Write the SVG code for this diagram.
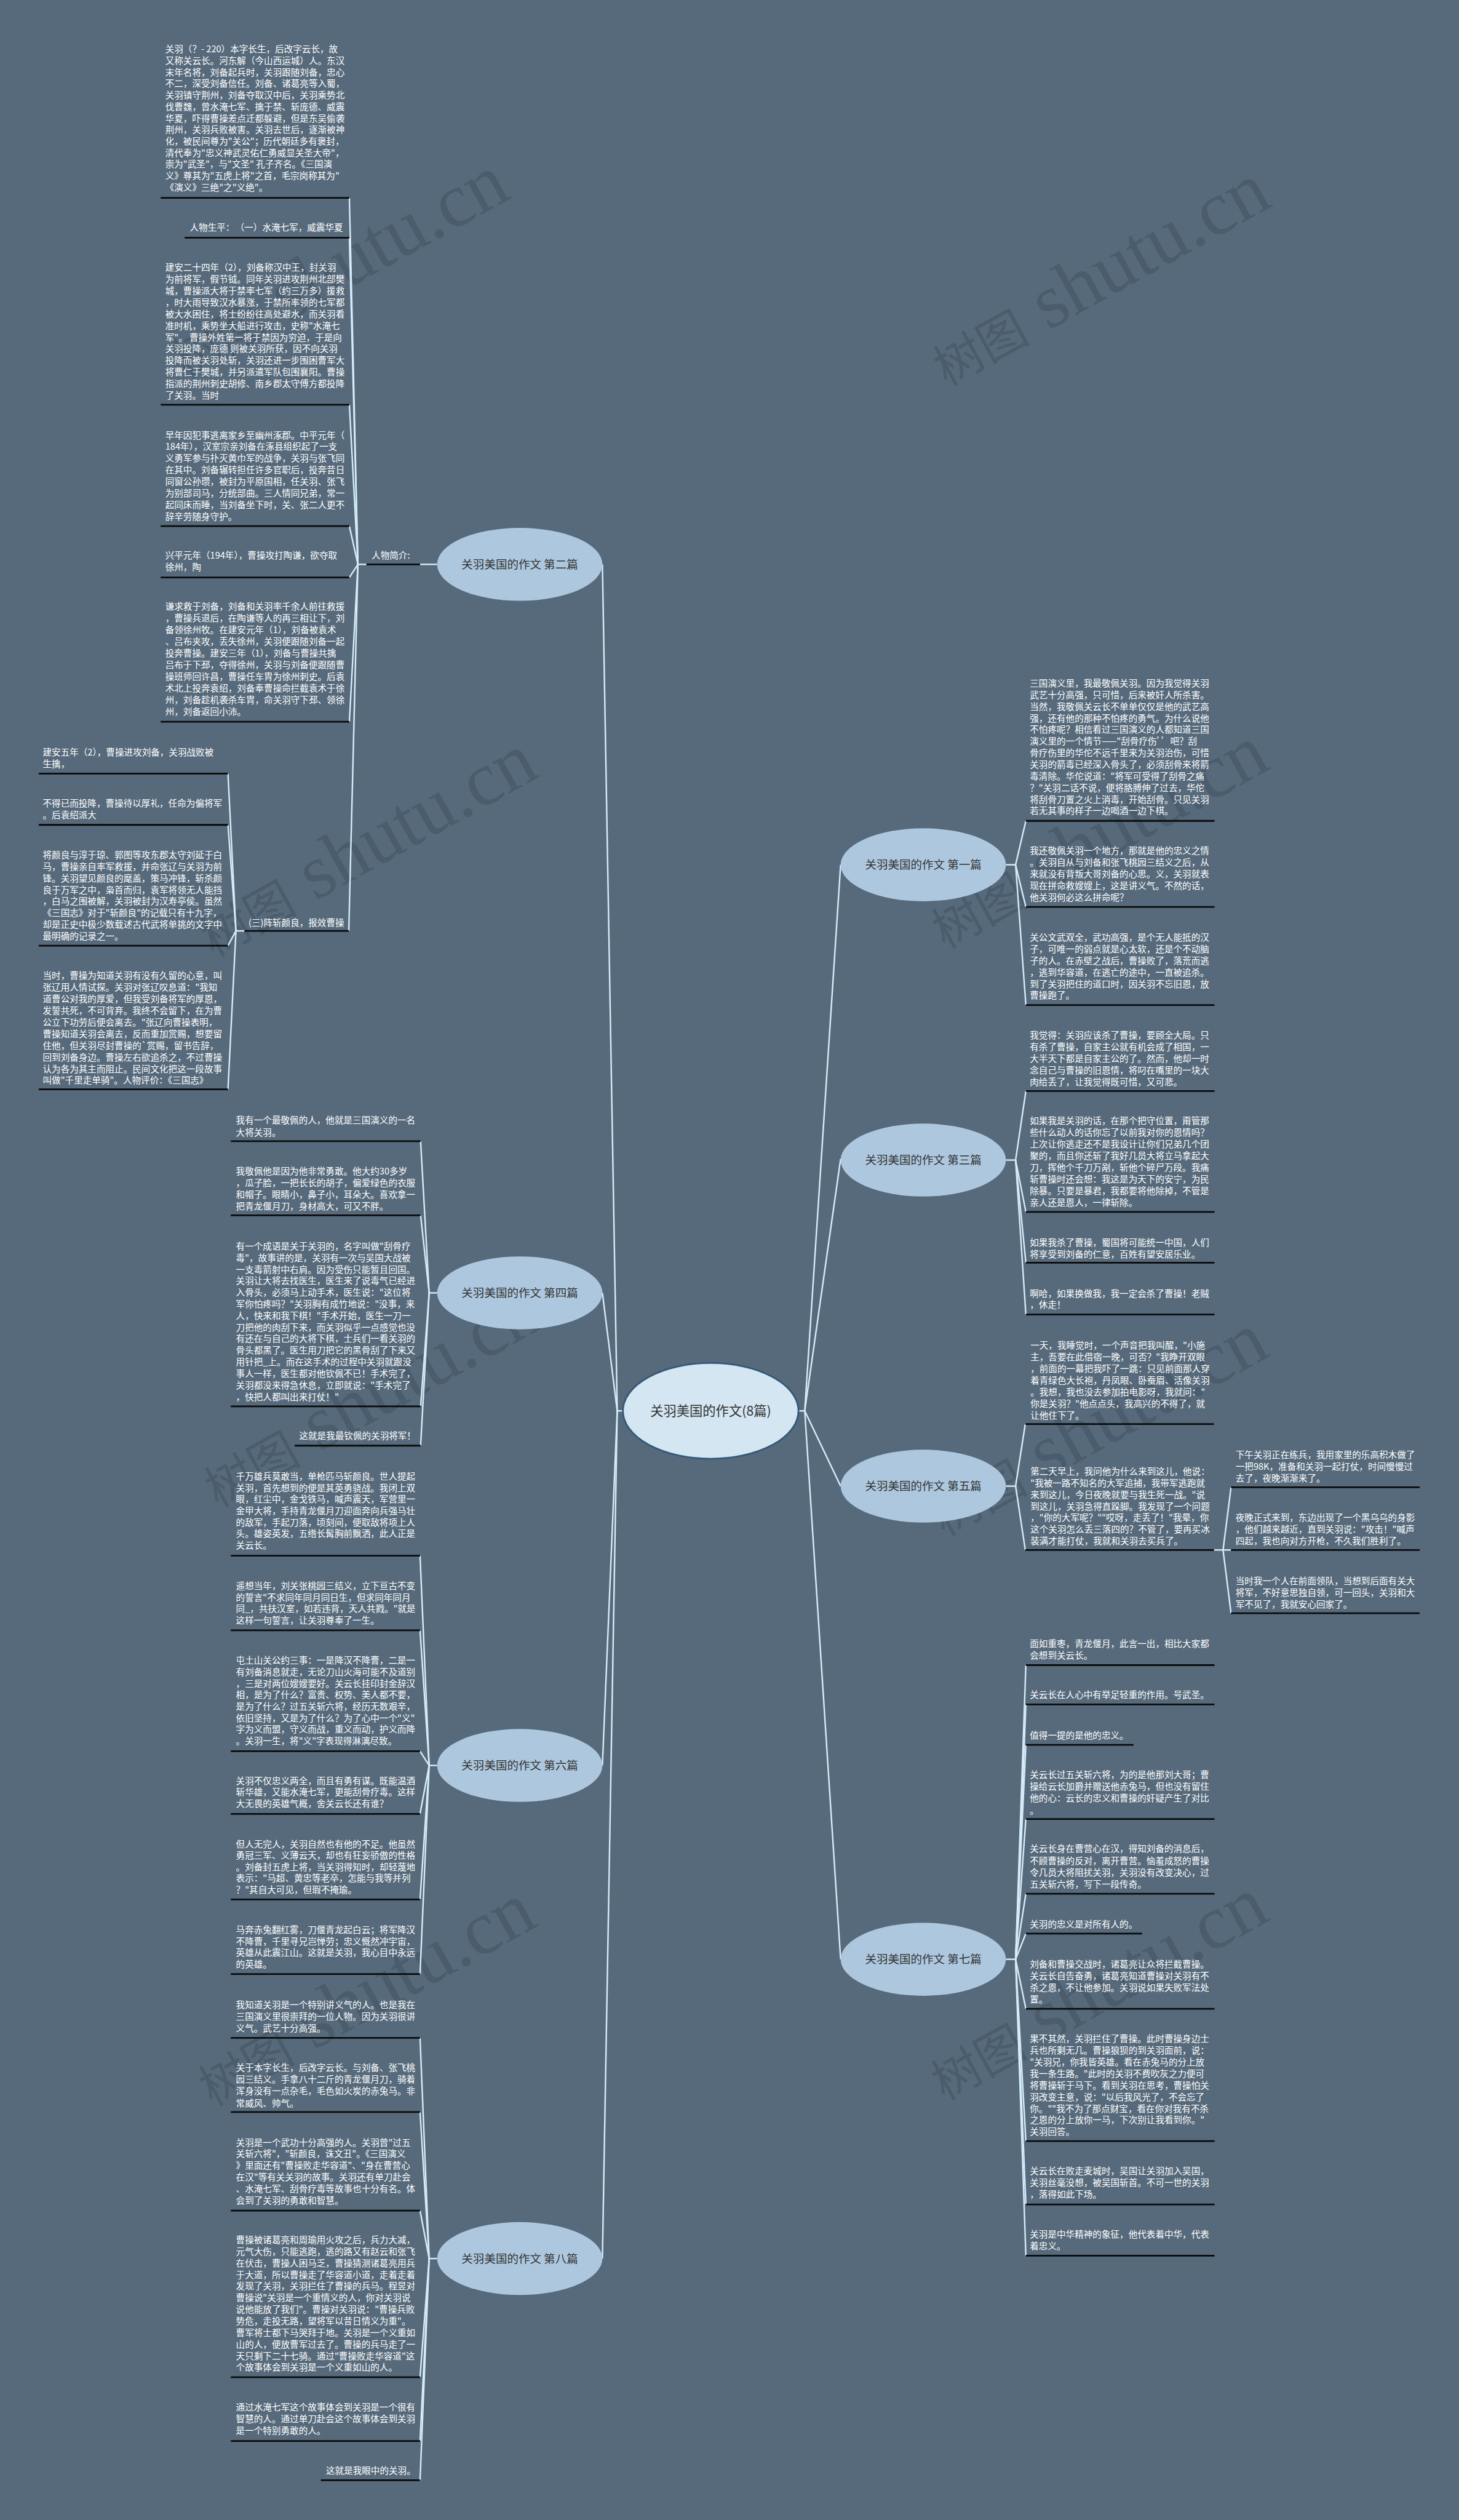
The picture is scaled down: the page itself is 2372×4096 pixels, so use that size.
<svg xmlns="http://www.w3.org/2000/svg" width="2372" height="4096" viewBox="0 0 2372 4096">
<style>
.t{font-family:"Noto Sans CJK SC","Noto Sans",sans-serif;font-size:15.75px;fill:#ffffff}
.nt{font-family:"Noto Sans CJK SC","Noto Sans",sans-serif;font-size:20px;fill:#333333;text-anchor:middle}
.ct{font-family:"Noto Sans CJK SC","Noto Sans",sans-serif;font-size:23px;fill:#333333;text-anchor:middle}
.ul{stroke:#0b0b0b;stroke-width:3;fill:none}
.conn path{stroke:#d4ecf8;stroke-width:2.6;fill:none;stroke-linejoin:round}
.bn{fill:#adc8de}
.cn{fill:#d3e6f2;stroke:#34597a;stroke-width:3}
.wm{font-family:"Liberation Serif","Noto Sans CJK SC",serif;fill:#2f3d4a;opacity:0.28;text-anchor:middle}
</style>
<rect x="0" y="0" width="2372" height="4096" fill="#566a7b"/>
<g transform="scale(0.9265625)">
<g id="watermarks">
<text class="wm" transform="translate(598,479) rotate(-29)" y="30"><tspan font-size="85">树图</tspan><tspan font-size="135"> shutu.cn</tspan></text>
<text class="wm" transform="translate(1934,493) rotate(-29)" y="30"><tspan font-size="85">树图</tspan><tspan font-size="135"> shutu.cn</tspan></text>
<text class="wm" transform="translate(648,1494) rotate(-29)" y="30"><tspan font-size="85">树图</tspan><tspan font-size="135"> shutu.cn</tspan></text>
<text class="wm" transform="translate(1931,1480) rotate(-29)" y="30"><tspan font-size="85">树图</tspan><tspan font-size="135"> shutu.cn</tspan></text>
<text class="wm" transform="translate(655,2460) rotate(-29)" y="30"><tspan font-size="85">树图</tspan><tspan font-size="135"> shutu.cn</tspan></text>
<text class="wm" transform="translate(1930,2510) rotate(-29)" y="30"><tspan font-size="85">树图</tspan><tspan font-size="135"> shutu.cn</tspan></text>
<text class="wm" transform="translate(645,3510) rotate(-29)" y="30"><tspan font-size="85">树图</tspan><tspan font-size="135"> shutu.cn</tspan></text>
<text class="wm" transform="translate(1930,3500) rotate(-29)" y="30"><tspan font-size="85">树图</tspan><tspan font-size="135"> shutu.cn</tspan></text>
</g>
<g id="connectors" class="conn">
<path d="M1093,2475 H1083 L1057,990"/>
<path d="M1083,2475 L1057,2268"/>
<path d="M1083,2475 L1057,3097"/>
<path d="M1083,2475 L1057,3962"/>
<path d="M1401,2475 H1412 L1475,1517"/>
<path d="M1412,2475 L1475,2033"/>
<path d="M1412,2475 L1475,2607"/>
<path d="M1412,2475 L1475,3437"/>
<path d="M767,990 H737"/>
<path d="M643,990 H628"/>
<path d="M628,990 L613,347"/>
<path d="M628,990 L613,417"/>
<path d="M628,990 L613,710"/>
<path d="M628,990 L613,923"/>
<path d="M628,990 L613,1013"/>
<path d="M628,990 L613,1266"/>
<path d="M628,990 L612,1633"/>
<path d="M429,1633 H414"/>
<path d="M414,1633 L400,1357"/>
<path d="M414,1633 L400,1447"/>
<path d="M414,1633 L400,1659"/>
<path d="M414,1633 L400,1911"/>
<path d="M767,2268 H753"/>
<path d="M753,2268 L738,2002"/>
<path d="M753,2268 L738,2132"/>
<path d="M753,2268 L738,2467"/>
<path d="M753,2268 L738,2536"/>
<path d="M767,3097 H753"/>
<path d="M753,3097 L737,2729"/>
<path d="M753,3097 L737,2860"/>
<path d="M753,3097 L737,3072"/>
<path d="M753,3097 L737,3182"/>
<path d="M753,3097 L737,3332"/>
<path d="M753,3097 L737,3463"/>
<path d="M767,3962 H753"/>
<path d="M753,3962 L737,3575"/>
<path d="M753,3962 L737,3705"/>
<path d="M753,3962 L737,3878"/>
<path d="M753,3962 L737,4170"/>
<path d="M753,3962 L737,4282"/>
<path d="M753,3962 L737,4351"/>
<path d="M1765,1517 H1782"/>
<path d="M1782,1517 L1800,1440"/>
<path d="M1782,1517 L1800,1591"/>
<path d="M1782,1517 L1800,1763"/>
<path d="M1765,2035 H1782"/>
<path d="M1782,2035 L1800,1914"/>
<path d="M1782,2035 L1800,2126"/>
<path d="M1782,2035 L1800,2215"/>
<path d="M1782,2035 L1800,2306"/>
<path d="M1765,2607 H1782"/>
<path d="M1782,2607 L1799,2498"/>
<path d="M1782,2607 L1799,2719"/>
<path d="M2130,2719 H2146"/>
<path d="M2146,2719 L2160,2609"/>
<path d="M2146,2719 L2160,2719"/>
<path d="M2146,2719 L2160,2830"/>
<path d="M1765,3437 H1782"/>
<path d="M1782,3437 L1800,2921"/>
<path d="M1782,3437 L1800,2990"/>
<path d="M1782,3437 L1800,3061"/>
<path d="M1782,3437 L1800,3191"/>
<path d="M1782,3437 L1800,3322"/>
<path d="M1782,3437 L1800,3392"/>
<path d="M1782,3437 L1800,3524"/>
<path d="M1782,3437 L1800,3756"/>
<path d="M1782,3437 L1800,3867"/>
<path d="M1782,3437 L1800,3957"/>
</g>
<g id="center">
<ellipse class="cn" cx="1247" cy="2475" rx="154" ry="84"/>
<text class="ct" x="1247" y="2483">关羽美国的作文(8篇)</text>
</g>
<g id="p2"><ellipse class="bn" cx="912" cy="990" rx="145" ry="64"/><text class="nt" x="912" y="997">关羽美国的作文 第二篇</text></g>
<g id="p4"><ellipse class="bn" cx="912" cy="2268" rx="145" ry="64"/><text class="nt" x="912" y="2275">关羽美国的作文 第四篇</text></g>
<g id="p6"><ellipse class="bn" cx="912" cy="3097" rx="145" ry="64"/><text class="nt" x="912" y="3104">关羽美国的作文 第六篇</text></g>
<g id="p8"><ellipse class="bn" cx="912" cy="3962" rx="145" ry="64"/><text class="nt" x="912" y="3969">关羽美国的作文 第八篇</text></g>
<g id="p1"><ellipse class="bn" cx="1620" cy="1517" rx="145" ry="64"/><text class="nt" x="1620" y="1524">关羽美国的作文 第一篇</text></g>
<g id="p3"><ellipse class="bn" cx="1620" cy="2035" rx="145" ry="64"/><text class="nt" x="1620" y="2042">关羽美国的作文 第三篇</text></g>
<g id="p5"><ellipse class="bn" cx="1620" cy="2607" rx="145" ry="64"/><text class="nt" x="1620" y="2614">关羽美国的作文 第五篇</text></g>
<g id="p7"><ellipse class="bn" cx="1620" cy="3437" rx="145" ry="64"/><text class="nt" x="1620" y="3444">关羽美国的作文 第七篇</text></g>

<g id="intro"><text class="t" x="652" y="980">人物简介:</text><line class="ul" x1="643" y1="990" x2="737" y2="990"/></g>
<g id="a"><text class="t" x="290" y="92"><tspan x="290" dy="0">关羽（？- 220）本字长生，后改字云长，故</tspan><tspan x="290" dy="20.2">又称关云长。河东解（今山西运城）人。东汉</tspan><tspan x="290" dy="20.2">末年名将，刘备起兵时，关羽跟随刘备，忠心</tspan><tspan x="290" dy="20.2">不二，深受刘备信任。刘备、诸葛亮等入蜀，</tspan><tspan x="290" dy="20.2">关羽镇守荆州，刘备夺取汉中后，关羽乘势北</tspan><tspan x="290" dy="20.2">伐曹魏，曾水淹七军、擒于禁、斩庞德、威震</tspan><tspan x="290" dy="20.2">华夏，吓得曹操差点迁都躲避，但是东吴偷袭</tspan><tspan x="290" dy="20.2">荆州，关羽兵败被害。关羽去世后，逐渐被神</tspan><tspan x="290" dy="20.2">化，被民间尊为"关公"；历代朝廷多有褒封，</tspan><tspan x="290" dy="20.2">清代奉为"忠义神武灵佑仁勇威显关圣大帝"，</tspan><tspan x="290" dy="20.2">崇为"武圣"，与"文圣" 孔子齐名。《三国演</tspan><tspan x="290" dy="20.2">义》尊其为"五虎上将"之首，毛宗岗称其为"</tspan><tspan x="290" dy="20.2">《演义》三绝"之"义绝"。</tspan></text><line class="ul" x1="282" y1="347" x2="613" y2="347"/></g>
<g id="b"><text class="t" x="333" y="405">人物生平：<tspan x="413">（一）水淹七军，威震华夏</tspan></text><line class="ul" x1="324" y1="417" x2="613" y2="417"/></g>
<g id="c"><text class="t" x="290" y="475"><tspan x="290" dy="0">建安二十四年（2），刘备称汉中王，封关羽</tspan><tspan x="290" dy="20.4">为前将军，假节钺。同年关羽进攻荆州北部樊</tspan><tspan x="290" dy="20.4">城，曹操派大将于禁率七军（约三万多）援救</tspan><tspan x="290" dy="20.4">，时大雨导致汉水暴涨，于禁所率领的七军都</tspan><tspan x="290" dy="20.4">被大水困住，将士纷纷往高处避水，而关羽看</tspan><tspan x="290" dy="20.4">准时机，乘势坐大船进行攻击，史称"水淹七</tspan><tspan x="290" dy="20.4">军"。 曹操外姓第一将于禁因为穷迫，于是向</tspan><tspan x="290" dy="20.4">关羽投降，庞德 则被关羽所获，因不向关羽</tspan><tspan x="290" dy="20.4">投降而被关羽处斩，关羽还进一步围困曹军大</tspan><tspan x="290" dy="20.4">将曹仁于樊城，并另派遣军队包围襄阳。曹操</tspan><tspan x="290" dy="20.4">指派的荆州刺史胡修、南乡郡太守傅方都投降</tspan><tspan x="290" dy="20.4">了关羽。当时</tspan></text><line class="ul" x1="282" y1="710" x2="613" y2="710"/></g>
<g id="d"><text class="t" x="290" y="769"><tspan x="290" dy="0">早年因犯事逃离家乡至幽州涿郡。中平元年（</tspan><tspan x="290" dy="20.4">184年），汉室宗亲刘备在涿县组织起了一支</tspan><tspan x="290" dy="20.4">义勇军参与扑灭黄巾军的战争，关羽与张飞同</tspan><tspan x="290" dy="20.4">在其中。刘备辗转担任许多官职后，投奔昔日</tspan><tspan x="290" dy="20.4">同窗公孙瓒，被封为平原国相，任关羽、张飞</tspan><tspan x="290" dy="20.4">为别部司马，分统部曲。三人情同兄弟，常一</tspan><tspan x="290" dy="20.4">起同床而睡，当刘备坐下时，关、张二人更不</tspan><tspan x="290" dy="20.4">辞辛劳随身守护。</tspan></text><line class="ul" x1="282" y1="923" x2="613" y2="923"/></g>
<g id="e"><text class="t" x="290" y="980.5"><tspan x="290" dy="0">兴平元年（194年），曹操攻打陶谦，欲夺取</tspan><tspan x="290" dy="20.5">徐州，陶</tspan></text><line class="ul" x1="282" y1="1013" x2="613" y2="1013"/></g>
<g id="f"><text class="t" x="290" y="1069.5"><tspan x="290" dy="0">谦求救于刘备，刘备和关羽率千余人前往救援</tspan><tspan x="290" dy="20.5">，曹操兵退后，在陶谦等人的再三相让下，刘</tspan><tspan x="290" dy="20.5">备领徐州牧。在建安元年（1），刘备被袁术</tspan><tspan x="290" dy="20.5">、吕布夹攻，丢失徐州，关羽便跟随刘备一起</tspan><tspan x="290" dy="20.5">投奔曹操。建安三年（1），刘备与曹操共擒</tspan><tspan x="290" dy="20.5">吕布于下邳，夺得徐州，关羽与刘备便跟随曹</tspan><tspan x="290" dy="20.5">操班师回许昌，曹操任车胄为徐州刺史。后袁</tspan><tspan x="290" dy="20.5">术北上投奔袁绍，刘备奉曹操命拦截袁术于徐</tspan><tspan x="290" dy="20.5">州，刘备趁机袭杀车胄，命关羽守下邳、领徐</tspan><tspan x="290" dy="20.5">州，刘备返回小沛。</tspan></text><line class="ul" x1="282" y1="1266" x2="613" y2="1266"/></g>
<g id="g3"><text class="t" x="436" y="1624">(三)阵斩颜良，报效曹操</text><line class="ul" x1="429" y1="1633" x2="612" y2="1633"/></g>
<g id="h"><text class="t" x="75" y="1325"><tspan x="75" dy="0">建安五年（2），曹操进攻刘备，关羽战败被</tspan><tspan x="75" dy="20.7">生擒，</tspan></text><line class="ul" x1="68" y1="1357" x2="400" y2="1357"/></g>
<g id="i"><text class="t" x="75" y="1415"><tspan x="75" dy="0">不得已而投降，曹操待以厚礼，任命为偏将军</tspan><tspan x="75" dy="20.7">。后袁绍派大</tspan></text><line class="ul" x1="68" y1="1447" x2="400" y2="1447"/></g>
<g id="j"><text class="t" x="75" y="1506"><tspan x="75" dy="0">将颜良与淳于琼、郭图等攻东郡太守刘延于白</tspan><tspan x="75" dy="20.25">马，曹操亲自率军救援，并命张辽与关羽为前</tspan><tspan x="75" dy="20.25">锋。关羽望见颜良的麾盖，策马冲锋，斩杀颜</tspan><tspan x="75" dy="20.25">良于万军之中，枭首而归，袁军将领无人能挡</tspan><tspan x="75" dy="20.25">，白马之围被解，关羽被封为汉寿亭侯。虽然</tspan><tspan x="75" dy="20.25">《三国志》对于"斩颜良"的记载只有十九字，</tspan><tspan x="75" dy="20.25">却是正史中极少数载述古代武将单挑的文字中</tspan><tspan x="75" dy="20.25">最明确的记录之一。</tspan></text><line class="ul" x1="68" y1="1659" x2="400" y2="1659"/></g>
<g id="k"><text class="t" x="75" y="1717.5"><tspan x="75" dy="0">当时，曹操为知道关羽有没有久留的心意，叫</tspan><tspan x="75" dy="20.4">张辽用人情试探。关羽对张辽叹息道："我知</tspan><tspan x="75" dy="20.4">道曹公对我的厚爱，但我受刘备将军的厚恩，</tspan><tspan x="75" dy="20.4">发誓共死，不可背弃。我终不会留下，在为曹</tspan><tspan x="75" dy="20.4">公立下功劳后便会离去。"张辽向曹操表明，</tspan><tspan x="75" dy="20.4">曹操知道关羽会离去，反而重加赏赐，想要留</tspan><tspan x="75" dy="20.4">住他，但关羽尽封曹操的`赏赐，留书告辞，</tspan><tspan x="75" dy="20.4">回到刘备身边。曹操左右欲追杀之，不过曹操</tspan><tspan x="75" dy="20.4">认为各为其主而阻止。民间文化把这一段故事</tspan><tspan x="75" dy="20.4">叫做"千里走单骑"。人物评价：《三国志》</tspan></text><line class="ul" x1="68" y1="1911" x2="400" y2="1911"/></g>

<g id="l"><text class="t" x="414" y="1971"><tspan x="414" dy="0">我有一个最敬佩的人，他就是三国演义的一名</tspan><tspan x="414" dy="21">大将关羽。</tspan></text><line class="ul" x1="405" y1="2002" x2="738" y2="2002"/></g>
<g id="m"><text class="t" x="414" y="2060"><tspan x="414" dy="0">我敬佩他是因为他非常勇敢。他大约30多岁</tspan><tspan x="414" dy="20.5">，瓜子脸，一把长长的胡子，偏爱绿色的衣服</tspan><tspan x="414" dy="20.5">和帽子。眼睛小，鼻子小，耳朵大。喜欢拿一</tspan><tspan x="414" dy="20.5">把青龙偃月刀，身材高大，可又不胖。</tspan></text><line class="ul" x1="405" y1="2132" x2="738" y2="2132"/></g>
<g id="n"><text class="t" x="414" y="2192"><tspan x="414" dy="0">有一个成语是关于关羽的，名字叫做"刮骨疗</tspan><tspan x="414" dy="20.3">毒"，故事讲的是，关羽有一次与吴国大战被</tspan><tspan x="414" dy="20.3">一支毒箭射中右肩。因为受伤只能暂且回国。</tspan><tspan x="414" dy="20.3">关羽让大将去找医生，医生来了说毒气已经进</tspan><tspan x="414" dy="20.3">入骨头，必须马上动手术，医生说："这位将</tspan><tspan x="414" dy="20.3">军你怕疼吗？"关羽胸有成竹地说："没事，来</tspan><tspan x="414" dy="20.3">人，快来和我下棋！"手术开始，医生一刀一</tspan><tspan x="414" dy="20.3">刀把他的肉刮下来，而关羽似乎一点感觉也没</tspan><tspan x="414" dy="20.3">有还在与自己的大将下棋，士兵们一看关羽的</tspan><tspan x="414" dy="20.3">骨头都黑了。医生用刀把它的黑骨刮了下来又</tspan><tspan x="414" dy="20.3">用针把_上。而在这手术的过程中关羽就跟没</tspan><tspan x="414" dy="20.3">事人一样，医生都对他钦佩不已！手术完了，</tspan><tspan x="414" dy="20.3">关羽都没来得急休息，立即就说："手术完了</tspan><tspan x="414" dy="20.3">，快把人都叫出来打仗！"</tspan></text><line class="ul" x1="405" y1="2467" x2="738" y2="2467"/></g>
<g id="o"><text class="t" x="525" y="2524.5">这就是我最钦佩的关羽将军！</text><line class="ul" x1="517" y1="2536" x2="738" y2="2536"/></g>

<g id="p"><text class="t" x="414" y="2595.5"><tspan x="414" dy="0">千万雄兵莫敢当，单枪匹马斩颜良。世人提起</tspan><tspan x="414" dy="20.2">关羽，首先想到的便是其英勇骁战。我闭上双</tspan><tspan x="414" dy="20.2">眼，红尘中，金戈铁马，喊声震天，军营里一</tspan><tspan x="414" dy="20.2">金甲大将，手持青龙偃月刀迎面奔向兵强马壮</tspan><tspan x="414" dy="20.2">的敌军，手起刀落，顷刻间，便取敌将项上人</tspan><tspan x="414" dy="20.2">头。雄姿英发，五绺长髯胸前飘洒，此人正是</tspan><tspan x="414" dy="20.2">关云长。</tspan></text><line class="ul" x1="405" y1="2729" x2="737" y2="2729"/></g>
<g id="q"><text class="t" x="414" y="2788"><tspan x="414" dy="0">遥想当年，刘关张桃园三结义，立下亘古不变</tspan><tspan x="414" dy="20">的誓言"不求同年同月同日生，但求同年同月</tspan><tspan x="414" dy="20">同_，共扶汉室，如若违背，天人共戮。"就是</tspan><tspan x="414" dy="20">这样一句誓言，让关羽尊奉了一生。</tspan></text><line class="ul" x1="405" y1="2860" x2="737" y2="2860"/></g>
<g id="r"><text class="t" x="414" y="2918.5"><tspan x="414" dy="0">屯土山关公约三事：一是降汉不降曹，二是一</tspan><tspan x="414" dy="20.2">有刘备消息就走，无论刀山火海可能不及道别</tspan><tspan x="414" dy="20.2">，三是对两位嫂嫂要好。关云长挂印封金辞汉</tspan><tspan x="414" dy="20.2">相，是为了什么？富贵、权势、美人都不要，</tspan><tspan x="414" dy="20.2">是为了什么？过五关斩六将，经历无数艰辛，</tspan><tspan x="414" dy="20.2">依旧坚持，又是为了什么？为了心中一个"义"</tspan><tspan x="414" dy="20.2">字为义而盟，守义而战，重义而动，护义而降</tspan><tspan x="414" dy="20.2">。关羽一生，将"义"字表现得淋漓尽致。</tspan></text><line class="ul" x1="405" y1="3072" x2="737" y2="3072"/></g>
<g id="s"><text class="t" x="414" y="3129.5"><tspan x="414" dy="0">关羽不仅忠义两全，而且有勇有谋。既能温酒</tspan><tspan x="414" dy="19.9">斩华雄，又能水淹七军，更能刮骨疗毒。这样</tspan><tspan x="414" dy="19.9">大无畏的英雄气概，舍关云长还有谁？</tspan></text><line class="ul" x1="405" y1="3182" x2="737" y2="3182"/></g>
<g id="tt"><text class="t" x="414" y="3241"><tspan x="414" dy="0">但人无完人，关羽自然也有他的不足。他虽然</tspan><tspan x="414" dy="19.9">勇冠三军、义薄云天，却也有狂妄骄傲的性格</tspan><tspan x="414" dy="19.9">。刘备封五虎上将，当关羽得知时，却轻蔑地</tspan><tspan x="414" dy="19.9">表示："马超、黄忠等老卒，怎能与我等并列</tspan><tspan x="414" dy="19.9">？"其自大可见，但瑕不掩瑜。</tspan></text><line class="ul" x1="405" y1="3332" x2="737" y2="3332"/></g>
<g id="u"><text class="t" x="414" y="3391.5"><tspan x="414" dy="0">马奔赤兔翻红雾，刀偃青龙起白云；将军降汉</tspan><tspan x="414" dy="19.9">不降曹，千里寻兄岂惮劳；忠义慨然冲宇宙，</tspan><tspan x="414" dy="19.9">英雄从此震江山。这就是关羽，我心目中永远</tspan><tspan x="414" dy="19.9">的英雄。</tspan></text><line class="ul" x1="405" y1="3463" x2="737" y2="3463"/></g>

<g id="v"><text class="t" x="414" y="3523"><tspan x="414" dy="0">我知道关羽是一个特别讲义气的人。也是我在</tspan><tspan x="414" dy="20.4">三国演义里很崇拜的一位人物。因为关羽很讲</tspan><tspan x="414" dy="20.4">义气。武艺十分高强。</tspan></text><line class="ul" x1="405" y1="3575" x2="737" y2="3575"/></g>
<g id="w"><text class="t" x="414" y="3632.5"><tspan x="414" dy="0">关于本字长生，后改字云长。与刘备、张飞桃</tspan><tspan x="414" dy="20.9">园三结义。手拿八十二斤的青龙偃月刀，骑着</tspan><tspan x="414" dy="20.9">浑身没有一点杂毛，毛色如火炭的赤兔马。非</tspan><tspan x="414" dy="20.9">常威风、帅气。</tspan></text><line class="ul" x1="405" y1="3705" x2="737" y2="3705"/></g>
<g id="x"><text class="t" x="414" y="3764"><tspan x="414" dy="0">关羽是一个武功十分高强的人。关羽曾"过五</tspan><tspan x="414" dy="20.4">关斩六将"，"斩颜良，诛文丑"。《三国演义</tspan><tspan x="414" dy="20.4">》里面还有"曹操败走华容道"、"身在曹营心</tspan><tspan x="414" dy="20.4">在汉"等有关关羽的故事。关羽还有单刀赴会</tspan><tspan x="414" dy="20.4">、水淹七军、刮骨疗毒等故事也十分有名。体</tspan><tspan x="414" dy="20.4">会到了关羽的勇敢和智慧。</tspan></text><line class="ul" x1="405" y1="3878" x2="737" y2="3878"/></g>
<g id="y"><text class="t" x="414" y="3935"><tspan x="414" dy="0">曹操被诸葛亮和周瑜用火攻之后，兵力大减，</tspan><tspan x="414" dy="20.35">元气大伤，只能逃跑，逃的路又有赵云和张飞</tspan><tspan x="414" dy="20.35">在伏击，曹操人困马乏，曹操猜测诸葛亮用兵</tspan><tspan x="414" dy="20.35">于大道，所以曹操走了华容道小道，走着走着</tspan><tspan x="414" dy="20.35">发现了关羽，关羽拦住了曹操的兵马。程昱对</tspan><tspan x="414" dy="20.35">曹操说"关羽是一个重情义的人，你对关羽说</tspan><tspan x="414" dy="20.35">说他能放了我们"。曹操对关羽说："曹操兵败</tspan><tspan x="414" dy="20.35">势危，走投无路，望将军以昔日情义为重"。</tspan><tspan x="414" dy="20.35">曹军将士都下马哭拜于地。关羽是一个义重如</tspan><tspan x="414" dy="20.35">山的人，便放曹军过去了。曹操的兵马走了一</tspan><tspan x="414" dy="20.35">天只剩下二十七骑。通过"曹操败走华容道"这</tspan><tspan x="414" dy="20.35">个故事体会到关羽是一个义重如山的人。</tspan></text><line class="ul" x1="405" y1="4170" x2="737" y2="4170"/></g>
<g id="z"><text class="t" x="414" y="4229"><tspan x="414" dy="0">通过水淹七军这个故事体会到关羽是一个很有</tspan><tspan x="414" dy="20.4">智慧的人。通过单刀赴会这个故事体会到关羽</tspan><tspan x="414" dy="20.4">是一个特别勇敢的人。</tspan></text><line class="ul" x1="405" y1="4282" x2="737" y2="4282"/></g>
<g id="aa"><text class="t" x="572" y="4340">这就是我眼中的关羽。</text><line class="ul" x1="563" y1="4351" x2="737" y2="4351"/></g>

<g id="r1"><text class="t" x="1807" y="1204.5"><tspan x="1807" dy="0">三国演义里，我最敬佩关羽。因为我觉得关羽</tspan><tspan x="1807" dy="20.35">武艺十分高强，只可惜，后来被奸人所杀害。</tspan><tspan x="1807" dy="20.35">当然，我敬佩关云长不单单仅仅是他的武艺高</tspan><tspan x="1807" dy="20.35">强，还有他的那种不怕疼的勇气。为什么说他</tspan><tspan x="1807" dy="20.35">不怕疼呢？相信看过三国演义的人都知道三国</tspan><tspan x="1807" dy="20.35">演义里的一个情节——"刮骨疗伤’’吧？刮</tspan><tspan x="1807" dy="20.35">骨疗伤里的华佗不远千里来为关羽治伤，可惜</tspan><tspan x="1807" dy="20.35">关羽的箭毒已经深入骨头了，必须刮骨来将箭</tspan><tspan x="1807" dy="20.35">毒清除。华佗说道："将军可受得了刮骨之痛</tspan><tspan x="1807" dy="20.35">？"关羽二话不说，便将胳膊伸了过去，华佗</tspan><tspan x="1807" dy="20.35">将刮骨刀置之火上消毒，开始刮骨。只见关羽</tspan><tspan x="1807" dy="20.35">若无其事的样子一边喝酒一边下棋。</tspan></text><line class="ul" x1="1800" y1="1440" x2="2131" y2="1440"/></g>
<g id="r2"><text class="t" x="1807" y="1498"><tspan x="1807" dy="0">我还敬佩关羽一个地方，那就是他的忠义之情</tspan><tspan x="1807" dy="20.4">。关羽自从与刘备和张飞桃园三结义之后，从</tspan><tspan x="1807" dy="20.4">来就没有背叛大哥刘备的心思。义，关羽就表</tspan><tspan x="1807" dy="20.4">现在拼命救嫂嫂上，这是讲义气。不然的话，</tspan><tspan x="1807" dy="20.4">他关羽何必这么拼命呢？</tspan></text><line class="ul" x1="1800" y1="1591" x2="2131" y2="1591"/></g>
<g id="r3"><text class="t" x="1807" y="1650.5"><tspan x="1807" dy="0">关公文武双全，武功高强，是个无人能抵的汉</tspan><tspan x="1807" dy="20.3">子，可唯一的弱点就是心太软，还是个不动脑</tspan><tspan x="1807" dy="20.3">子的人。在赤壁之战后，曹操败了，落荒而逃</tspan><tspan x="1807" dy="20.3">，逃到华容道，在逃亡的途中，一直被追杀。</tspan><tspan x="1807" dy="20.3">到了关羽把住的道口时，因关羽不忘旧恩，放</tspan><tspan x="1807" dy="20.3">曹操跑了。</tspan></text><line class="ul" x1="1800" y1="1763" x2="2131" y2="1763"/></g>

<g id="s1"><text class="t" x="1807" y="1821.5"><tspan x="1807" dy="0">我觉得：关羽应该杀了曹操，要顾全大局。只</tspan><tspan x="1807" dy="20.45">有杀了曹操，自家主公就有机会成了相国，一</tspan><tspan x="1807" dy="20.45">大半天下都是自家主公的了。然而，他却一时</tspan><tspan x="1807" dy="20.45">念自己与曹操的旧恩情，将叼在嘴里的一块大</tspan><tspan x="1807" dy="20.45">肉给丢了，让我觉得既可惜，又可悲。</tspan></text><line class="ul" x1="1800" y1="1914" x2="2131" y2="1914"/></g>
<g id="s2"><text class="t" x="1807" y="1972"><tspan x="1807" dy="0">如果我是关羽的话，在那个把守位置，甭管那</tspan><tspan x="1807" dy="20.5">些什么动人的话你忘了以前我对你的恩情吗？</tspan><tspan x="1807" dy="20.5">上次让你逃走还不是我设计让你们兄弟几个团</tspan><tspan x="1807" dy="20.5">聚的，而且你还斩了我好几员大将立马拿起大</tspan><tspan x="1807" dy="20.5">刀，挥他个千刀万剐，斩他个碎尸万段。我痛</tspan><tspan x="1807" dy="20.5">斩曹操时还会想：我这是为天下的安宁，为民</tspan><tspan x="1807" dy="20.5">除暴。只要是暴君，我都要将他除掉，不管是</tspan><tspan x="1807" dy="20.5">亲人还是恩人，一律斩除。</tspan></text><line class="ul" x1="1800" y1="2126" x2="2131" y2="2126"/></g>
<g id="s3"><text class="t" x="1807" y="2185"><tspan x="1807" dy="0">如果我杀了曹操，蜀国将可能统一中国，人们</tspan><tspan x="1807" dy="20.6">将享受到刘备的仁意，百姓有望安居乐业。</tspan></text><line class="ul" x1="1800" y1="2215" x2="2131" y2="2215"/></g>
<g id="s4"><text class="t" x="1807" y="2275"><tspan x="1807" dy="0">啊哈，如果换做我，我一定会杀了曹操！老贼</tspan><tspan x="1807" dy="20">，休走！</tspan></text><line class="ul" x1="1800" y1="2306" x2="2131" y2="2306"/></g>

<g id="t1"><text class="t" x="1808" y="2366"><tspan x="1808" dy="0">一天，我睡觉时，一个声音把我叫醒，"小施</tspan><tspan x="1808" dy="20.5">主，吾要在此借宿一晚，可否？"我睁开双眼</tspan><tspan x="1808" dy="20.5">，前面的一幕把我吓了一跳：只见前面那人穿</tspan><tspan x="1808" dy="20.5">着青绿色大长袍，丹凤眼、卧蚕眉、活像关羽</tspan><tspan x="1808" dy="20.5">。我想，我也没去参加拍电影呀，我就问："</tspan><tspan x="1808" dy="20.5">你是关羽？"他点点头，我高兴的不得了，就</tspan><tspan x="1808" dy="20.5">让他住下了。</tspan></text><line class="ul" x1="1799" y1="2498" x2="2130" y2="2498"/></g>
<g id="t2"><text class="t" x="1808" y="2587.5"><tspan x="1808" dy="0">第二天早上，我问他为什么来到这儿，他说：</tspan><tspan x="1808" dy="20.2">"我被一路不知名的大军追捕，我带军逃跑就</tspan><tspan x="1808" dy="20.2">来到这儿，今日夜晚就要与我生死一战。"说</tspan><tspan x="1808" dy="20.2">到这儿，关羽急得直跺脚。我发现了一个问题</tspan><tspan x="1808" dy="20.2">，"你的大军呢？""哎呀，走丢了！"我晕，你</tspan><tspan x="1808" dy="20.2">这个关羽怎么丢三落四的？不管了，要再买冰</tspan><tspan x="1808" dy="20.2">装满才能打仗，我就和关羽去买兵了。</tspan></text><line class="ul" x1="1799" y1="2719" x2="2130" y2="2719"/></g>
<g id="t3"><text class="t" x="2168" y="2557.5"><tspan x="2168" dy="0">下午关羽正在练兵，我用家里的乐高积木做了</tspan><tspan x="2168" dy="20.8">一把98K，准备和关羽一起打仗，时间慢慢过</tspan><tspan x="2168" dy="20.8">去了，夜晚渐渐来了。</tspan></text><line class="ul" x1="2160" y1="2609" x2="2491" y2="2609"/></g>
<g id="t4"><text class="t" x="2168" y="2667.5"><tspan x="2168" dy="0">夜晚正式来到，东边出现了一个黑乌乌的身影</tspan><tspan x="2168" dy="20.5">，他们越来越近，直到关羽说："攻击！"喊声</tspan><tspan x="2168" dy="20.5">四起，我也向对方开枪，不久我们胜利了。</tspan></text><line class="ul" x1="2160" y1="2719" x2="2491" y2="2719"/></g>
<g id="t5"><text class="t" x="2168" y="2779"><tspan x="2168" dy="0">当时我一个人在前面领队，当想到后面有关大</tspan><tspan x="2168" dy="20.5">将军，不好意思独自领，可一回头，关羽和大</tspan><tspan x="2168" dy="20.5">军不见了，我就安心回家了。</tspan></text><line class="ul" x1="2160" y1="2830" x2="2491" y2="2830"/></g>

<g id="u1"><text class="t" x="1807" y="2889.5"><tspan x="1807" dy="0">面如重枣，青龙偃月，此言一出，相比大家都</tspan><tspan x="1807" dy="20">会想到关云长。</tspan></text><line class="ul" x1="1800" y1="2921" x2="2131" y2="2921"/></g>
<g id="u2"><text class="t" x="1807" y="2979">关云长在人心中有举足轻重的作用。号武圣。</text><line class="ul" x1="1800" y1="2990" x2="2131" y2="2990"/></g>
<g id="u3"><text class="t" x="1807" y="3049.5">值得一提的是他的忠义。</text><line class="ul" x1="1800" y1="3061" x2="1989" y2="3061"/></g>
<g id="u4"><text class="t" x="1807" y="3119"><tspan x="1807" dy="0">关云长过五关斩六将，为的是他那刘大哥；曹</tspan><tspan x="1807" dy="20.8">操给云长加爵并赠送他赤兔马，但也没有留住</tspan><tspan x="1807" dy="20.8">他的心：云长的忠义和曹操的奸疑产生了对比</tspan><tspan x="1807" dy="20.8">。</tspan></text><line class="ul" x1="1800" y1="3191" x2="2131" y2="3191"/></g>
<g id="u5"><text class="t" x="1807" y="3249"><tspan x="1807" dy="0">关云长身在曹营心在汉，得知刘备的消息后，</tspan><tspan x="1807" dy="20.7">不顾曹操的反对，离开曹营。恼羞成怒的曹操</tspan><tspan x="1807" dy="20.7">令几员大将阻扰关羽，关羽没有改变决心，过</tspan><tspan x="1807" dy="20.7">五关斩六将，写下一段传奇。</tspan></text><line class="ul" x1="1800" y1="3322" x2="2131" y2="3322"/></g>
<g id="u6"><text class="t" x="1807" y="3381">关羽的忠义是对所有人的。</text><line class="ul" x1="1800" y1="3392" x2="2004" y2="3392"/></g>
<g id="u7"><text class="t" x="1807" y="3451"><tspan x="1807" dy="0">刘备和曹操交战时，诸葛亮让众将拦截曹操。</tspan><tspan x="1807" dy="20.8">关云长自告奋勇，诸葛亮知道曹操对关羽有不</tspan><tspan x="1807" dy="20.8">杀之恩，不让他参加。关羽说如果失败军法处</tspan><tspan x="1807" dy="20.8">置。</tspan></text><line class="ul" x1="1800" y1="3524" x2="2131" y2="3524"/></g>
<g id="u8"><text class="t" x="1807" y="3582.5"><tspan x="1807" dy="0">果不其然，关羽拦住了曹操。此时曹操身边士</tspan><tspan x="1807" dy="20.35">兵也所剩无几。曹操狼狈的到关羽面前，说：</tspan><tspan x="1807" dy="20.35">"关羽兄，你我皆英雄。看在赤兔马的分上放</tspan><tspan x="1807" dy="20.35">我一条生路。"此时的关羽不费吹灰之力便可</tspan><tspan x="1807" dy="20.35">将曹操斩于马下。看到关羽在思考，曹操怕关</tspan><tspan x="1807" dy="20.35">羽改变主意，说："以后我风光了，不会忘了</tspan><tspan x="1807" dy="20.35">你。""我不为了那点财宝，看在你对我有不杀</tspan><tspan x="1807" dy="20.35">之恩的分上放你一马，下次别让我看到你。"</tspan><tspan x="1807" dy="20.35">关羽回答。</tspan></text><line class="ul" x1="1800" y1="3756" x2="2131" y2="3756"/></g>
<g id="u9"><text class="t" x="1807" y="3814.5"><tspan x="1807" dy="0">关云长在败走麦城时，吴国让关羽加入吴国，</tspan><tspan x="1807" dy="20.3">关羽丝毫没想，被吴国斩首。不可一世的关羽</tspan><tspan x="1807" dy="20.3">，落得如此下场。</tspan></text><line class="ul" x1="1800" y1="3867" x2="2131" y2="3867"/></g>
<g id="u10"><text class="t" x="1807" y="3925"><tspan x="1807" dy="0">关羽是中华精神的象征，他代表着中华，代表</tspan><tspan x="1807" dy="21">着忠义。</tspan></text><line class="ul" x1="1800" y1="3957" x2="2131" y2="3957"/></g>
</g>
</svg>
